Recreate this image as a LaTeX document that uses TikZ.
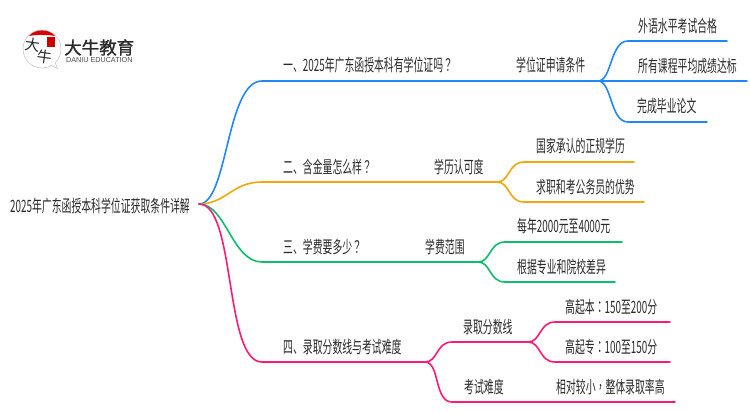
\documentclass[tikz,border=0pt]{standalone}
\usepackage{fontspec}
\setmainfont{Noto Sans CJK SC}
\newfontfamily\zh[FakeStretch=0.58]{Noto Sans CJK SC}
\newfontfamily\tw[FakeStretch=0.58]{Noto Sans CJK TC}
\newfontfamily\logozh[FakeBold=1.5]{Noto Sans CJK SC}
\newfontfamily\logobr{Noto Sans CJK SC}
\newfontfamily\logoen{Liberation Sans}
\definecolor{bl}{HTML}{1E88F5}
\definecolor{og}{HTML}{F5A60A}
\definecolor{gn}{HTML}{0DBF6B}
\definecolor{pk}{HTML}{FF1A75}
\definecolor{ink}{HTML}{2A2A2A}
\tikzset{
 lbl/.style={anchor=west,inner sep=0pt,text=ink,font=\zh\fontsize{17}{19}\selectfont},
 edge/.style={line width=1.6pt,line cap=round,line join=round},
}
\begin{document}
\begin{tikzpicture}[x=1pt,y=-1pt]
\useasboundingbox (0,0) rectangle (750,410);
% logo
\fill[white,draw=black!25,line width=.5pt] (42,49) circle (19);
\fill[white,draw=black!25,line width=.5pt] (50,65) -- (57.5,68.5) -- (55,62);
\fill[red!85!black] (29,36) .. controls (35,28.5) and (49,28.5) .. (55,36) .. controls (47,34.5) and (37,34.5) .. (29,36) -- cycle;
\fill[red!80!black] (47,37) rectangle (55,47);
\node[inner sep=0pt,text=ink,rotate=-8] (logoa) at (33,45) {\logobr\fontsize{15}{15}\selectfont 大};
\node[inner sep=0pt,text=ink,rotate=-8] (logob) at (45,57) {\logobr\fontsize{15}{15}\selectfont 牛};
\node[inner sep=0pt,anchor=west,text=ink] (logoc) at (64,47.5) {\logozh\fontsize{17.5}{18}\selectfont 大牛教育};
\node[inner sep=0pt,anchor=west,text=ink!85] (logod) at (66,60.5) {\logoen\fontsize{7.2}{7}\selectfont DANIU EDUCATION};
% texts
\node[lbl] (root) at (10,206) {2025年广东函授本科学位证获取条件详解};
\node[lbl] (t1) at (283,65) {一、2025年广东函授本科有学位证吗{\tw ？}};
\node[lbl] (t11) at (516,65) {学位证申请条件};
\node[lbl] (t111) at (638,26) {外语水平考试合格};
\node[lbl] (t112) at (638,66.5) {所有课程平均成绩达标};
\node[lbl] (t113) at (637,106) {完成毕业论文};
\node[lbl] (t2) at (283,167) {二、含金量怎么样{\tw ？}};
\node[lbl] (t21) at (434,167) {学历认可度};
\node[lbl] (t211) at (536,146) {国家承认的正规学历};
\node[lbl] (t212) at (536,187) {求职和考公务员的优势};
\node[lbl] (t3) at (283,247) {三、学费要多少{\tw ？}};
\node[lbl] (t31) at (425,247) {学费范围};
\node[lbl] (t311) at (517,226) {每年2000元至4000元};
\node[lbl] (t312) at (517,267) {根据专业和院校差异};
\node[lbl] (t4) at (283,347) {四、录取分数线与考试难度};
\node[lbl] (t41) at (463,327) {录取分数线};
\node[lbl] (t42) at (464,387) {考试难度};
\node[lbl] (t411) at (565,307) {高起本{\tw ：}150至200分};
\node[lbl] (t412) at (565,347) {高起专{\tw ：}100至150分};
\node[lbl] (t421) at (556,387) {相对较小{\tw ，}整体录取率高};
% coordinates
\coordinate (o) at (199,204);
\foreach \n/\x/\y in {b1/598/81,b2/497/182,b3/478/262,b4/425/362,b41/528/342,
 e111/727/41,e112/747/81,e113/707/122,e211/634/162,e212/644/202,e311/622/242,e312/615/282,
 e411/670/322,e412/670/362,e421/675/402}
  \coordinate (\n) at (\x,\y);
% blue
\draw[edge,bl] (o) .. controls (228,204) and (226,81) .. (262,81) -- (b1);
\draw[edge,bl] (b1) .. controls (612,81) and (610,41) .. (628,41) -- (e111);
\draw[edge,bl] (b1) -- (e112);
\draw[edge,bl] (b1) .. controls (612,81) and (610,122) .. (628,122) -- (e113);
% orange
\draw[edge,og] (o) .. controls (226,204) and (232,182) .. (262,182) -- (b2);
\draw[edge,og] (b2) .. controls (510,182) and (508,162) .. (524,162) -- (e211);
\draw[edge,og] (b2) .. controls (510,182) and (508,202) .. (524,202) -- (e212);
% green
\draw[edge,gn] (o) .. controls (226,204) and (232,262) .. (262,262) -- (b3);
\draw[edge,gn] (b3) .. controls (491,262) and (489,242) .. (505,242) -- (e311);
\draw[edge,gn] (b3) .. controls (491,262) and (489,282) .. (505,282) -- (e312);
% pink
\draw[edge,pk] (o) .. controls (236,204) and (224,362) .. (262,362) -- (b4);
\draw[edge,pk] (b4) .. controls (438,362) and (436,342) .. (452,342) -- (b41);
\draw[edge,pk] (b41) .. controls (541,342) and (539,322) .. (555,322) -- (e411);
\draw[edge,pk] (b41) .. controls (541,342) and (539,362) .. (555,362) -- (e412);
\draw[edge,pk] (b4) .. controls (440,362) and (434,402) .. (452,402) -- (e421);
\end{tikzpicture}
\end{document}
